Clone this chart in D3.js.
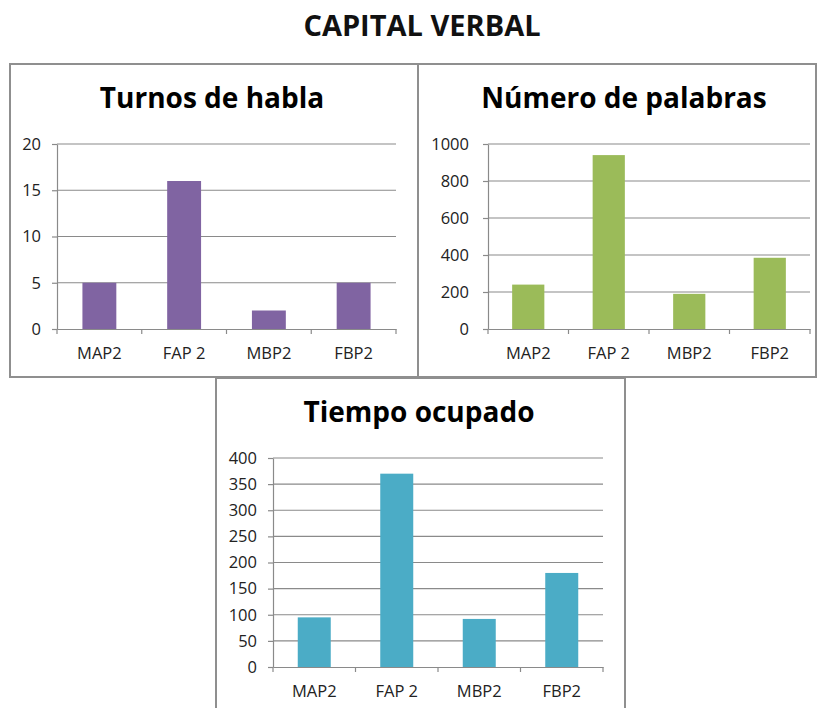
<!DOCTYPE html>
<html>
<head>
<meta charset="utf-8">
<script src="https://cdn.jsdelivr.net/npm/d3@7"></script>
<style>
  body { margin: 0; background: #fff; }
  svg text { font-family: "Open Sans", "Noto Sans", sans-serif; }
</style>
</head>
<body>
<div id="chart"></div>
<script>
const categories = ['MAP2', 'FAP 2', 'MBP2', 'FBP2'];

const turnos = [5, 16, 2, 5];
const palabras = [240, 940, 190, 385];
const tiempo = [95, 370, 92, 180];

const turnosTicks = [0, 5, 10, 15, 20];
const palabrasTicks = [0, 200, 400, 600, 800, 1000];
const tiempoTicks = [0, 50, 100, 150, 200, 250, 300, 350, 400];

const width = 822;
const height = 708;

const svg = d3.select('#chart')
  .append('svg')
  .attr('width', width)
  .attr('height', height);

svg.append('text')
  .attr('x', 422)
  .attr('y', 36)
  .attr('text-anchor', 'middle')
  .attr('fill', '#111')
  .style('font-size', '29px')
  .style('font-weight', 700)
  .text('CAPITAL VERBAL');

const panels = [
  { title: 'Turnos de habla', values: turnos, ticks: turnosTicks, color: '#8064a2',
    box: [10, 64, 418, 377], plot: [57, 144, 396, 329], titleX: 212, labelGap: 11 },
  { title: 'Número de palabras', values: palabras, ticks: palabrasTicks, color: '#9bbb59',
    box: [418, 64, 816, 377], plot: [488, 144, 810, 329], titleX: 624, labelGap: 14 },
  { title: 'Tiempo ocupado', values: tiempo, ticks: tiempoTicks, color: '#4bacc6',
    box: [216, 378, 625, 712], plot: [273, 458, 603, 667], titleX: 419, labelGap: 11 },
];

panels.forEach(drawPanel);

function drawPanel(p) {
  const [bx0, by0, bx1, by1] = p.box;
  const [px0, py0, px1, py1] = p.plot;
  const g = svg.append('g');

  g.append('rect')
    .attr('x', bx0)
    .attr('y', by0)
    .attr('width', bx1 - bx0)
    .attr('height', by1 - by0)
    .attr('fill', '#fff')
    .attr('stroke', '#8f8f8f')
    .attr('stroke-width', 2);

  g.append('text')
    .attr('x', p.titleX)
    .attr('y', by0 + 44)
    .attr('text-anchor', 'middle')
    .attr('fill', '#000')
    .style('font-size', '28px')
    .style('font-weight', 700)
    .text(p.title);

  const x = d3.scaleBand()
    .domain(categories)
    .range([px0, px1])
    .paddingInner(0.6)
    .paddingOuter(0.3);

  const y = d3.scaleLinear()
    .domain([0, d3.max(p.ticks)])
    .range([py1, py0]);

  // gridlines
  g.append('g')
    .selectAll('line')
    .data(p.ticks.filter(t => t > 0))
    .join('line')
    .attr('x1', px0)
    .attr('x2', px1)
    .attr('y1', d => y(d))
    .attr('y2', d => y(d))
    .attr('stroke', '#8a8a8a')
    .attr('stroke-width', 1.2);

  g.append('g')
    .selectAll('rect')
    .data(p.values)
    .join('rect')
    .attr('x', (d, i) => x(categories[i]))
    .attr('y', d => y(d))
    .attr('width', x.bandwidth())
    .attr('height', d => y(0) - y(d))
    .attr('fill', p.color);

  const yAxis = g.append('g')
    .attr('transform', `translate(${px0},0)`)
    .call(d3.axisLeft(y).tickValues(p.ticks).tickFormat(d3.format('d'))
      .tickSize(5).tickPadding(p.labelGap).tickSizeOuter(0));

  const xAxis = g.append('g')
    .attr('transform', `translate(0,${py1})`)
    .call(d3.axisBottom(x).tickSize(0).tickPadding(18).tickSizeOuter(0));

  // category boundary ticks
  const step = x.step();
  g.append('g')
    .selectAll('line')
    .data(d3.range(categories.length + 1))
    .join('line')
    .attr('x1', i => px0 + i * step)
    .attr('x2', i => px0 + i * step)
    .attr('y1', py1)
    .attr('y2', py1 + 5)
    .attr('stroke', '#8a8a8a')
    .attr('stroke-width', 1.2);

  [yAxis, xAxis].forEach(a => {
    a.selectAll('.domain, .tick line')
      .attr('stroke', '#8a8a8a')
      .attr('stroke-width', 1.2);
    a.selectAll('text')
      .attr('fill', '#222')
      .style('font-size', '16.5px');
  });
}
</script>
</body>
</html>
